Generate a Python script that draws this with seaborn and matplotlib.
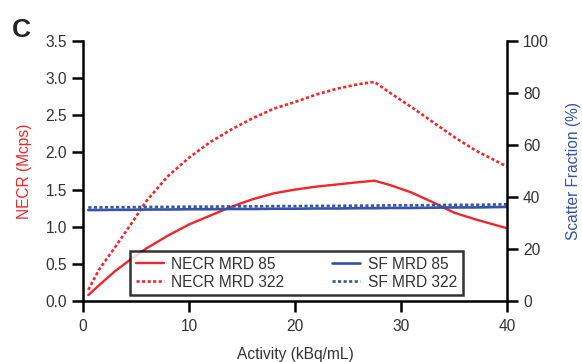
import matplotlib
matplotlib.use("Agg")
import matplotlib.pyplot as plt
import seaborn as sns
import pandas as pd

# ---- data ----
activity = [0.5, 1.5, 3, 4.5, 6, 8, 10, 12, 14, 16, 18, 20, 22, 24, 26, 27.5,
            29, 31, 33, 35, 37, 38.5, 40]
necr_mrd85 = [0.08, 0.21, 0.40, 0.56, 0.71, 0.88, 1.03, 1.15, 1.27, 1.37, 1.45, 1.50,
              1.54, 1.57, 1.60, 1.62, 1.56, 1.46, 1.33, 1.19, 1.10, 1.04, 0.98]
necr_mrd322 = [0.15, 0.42, 0.72, 1.03, 1.35, 1.68, 1.93, 2.14, 2.31, 2.46, 2.59, 2.68,
               2.78, 2.86, 2.92, 2.95, 2.80, 2.61, 2.41, 2.21, 2.03, 1.92, 1.81]
sf_mrd85 = [35.0, 35.0, 35.1, 35.1, 35.2, 35.2, 35.3, 35.3, 35.4, 35.4, 35.5, 35.5,
            35.6, 35.6, 35.7, 35.7, 35.8, 35.8, 35.9, 36.0, 36.0, 36.1, 36.2]
sf_mrd322 = [36.0, 36.0, 36.1, 36.1, 36.2, 36.2, 36.3, 36.3, 36.4, 36.4, 36.5, 36.5,
             36.6, 36.6, 36.7, 36.7, 36.8, 36.8, 36.9, 37.0, 37.0, 37.1, 37.2]

x_ticks = [0, 10, 20, 30, 40]
left_ticks = [0.0, 0.5, 1.0, 1.5, 2.0, 2.5, 3.0, 3.5]
right_ticks = [0, 20, 40, 60, 80, 100]

df = pd.DataFrame({"x": activity, "n85": necr_mrd85, "n322": necr_mrd322,
                   "s85": sf_mrd85, "s322": sf_mrd322})

sns.set_theme(style="ticks")
plt.rcParams["font.family"] = ["Liberation Sans", "DejaVu Sans"]

RED = "#f5262a"
BLUE = "#3554a8"
TXT = "#333333"
FS = 11.2
dotted = (0, (1.2, 0.9))

fig = plt.figure(figsize=(5.82, 3.62), dpi=100)
ax = fig.add_axes([0.1426, 0.1685, 0.7285, 0.718])
ax2 = ax.twinx()

sns.lineplot(data=df, x="x", y="n85", ax=ax, color=RED, lw=1.7, label="NECR MRD 85", legend=False)
sns.lineplot(data=df, x="x", y="n322", ax=ax, color=RED, lw=1.9, linestyle=dotted, label="NECR MRD 322", legend=False)
sns.lineplot(data=df, x="x", y="s85", ax=ax2, color=BLUE, lw=1.9, label="SF MRD 85", legend=False)
sns.lineplot(data=df, x="x", y="s322", ax=ax2, color=BLUE, lw=1.9, linestyle=dotted, label="SF MRD 322", legend=False)

ax.set_xlim(0, 40)
ax.set_ylim(0, 3.5)
ax2.set_ylim(0, 100)
ax.set_xticks(x_ticks)
ax.set_yticks(left_ticks)
ax.set_yticklabels([f"{v:.1f}" for v in left_ticks])
ax2.set_yticks(right_ticks)

for a in (ax, ax2):
    a.spines["top"].set_visible(False)
    for s in a.spines.values():
        s.set_linewidth(1.8)
        s.set_color("black")
    a.tick_params(width=1.8, length=8, labelsize=FS, labelcolor=TXT, color="black", pad=3.5)
ax.tick_params(axis="x", pad=5)
ax.spines["right"].set_visible(False)
ax2.spines["left"].set_visible(False)
ax2.spines["bottom"].set_visible(False)

ax.set_xlabel("Activity (kBq/mL)", fontsize=FS, color=TXT, labelpad=9)
ax.set_ylabel("NECR (Mcps)", fontsize=FS, color=RED, labelpad=10)
ax2.set_ylabel("Scatter Fraction (%)", fontsize=FS, color=BLUE, labelpad=12.5)

h1, l1 = ax.get_legend_handles_labels()
h2, l2 = ax2.get_legend_handles_labels()
leg = ax2.legend(h1 + h2, l1 + l2, ncol=2, loc="lower left",
                 bbox_to_anchor=(0.111, 0.023, 0.785, 0.173), mode="expand",
                 fontsize=FS, frameon=True, fancybox=False, handlelength=1.8,
                 borderpad=0.35, labelspacing=0.18, columnspacing=1.5, handletextpad=0.5,
                 borderaxespad=0.0)
leg.get_frame().set_edgecolor("black")
leg.get_frame().set_linewidth(1.8)
for t in leg.get_texts():
    t.set_color(TXT)

fig.text(0.02, 0.898, "C", fontsize=19, fontweight="bold", color="#222222", va="baseline")

fig.savefig("out.png", dpi=100)
